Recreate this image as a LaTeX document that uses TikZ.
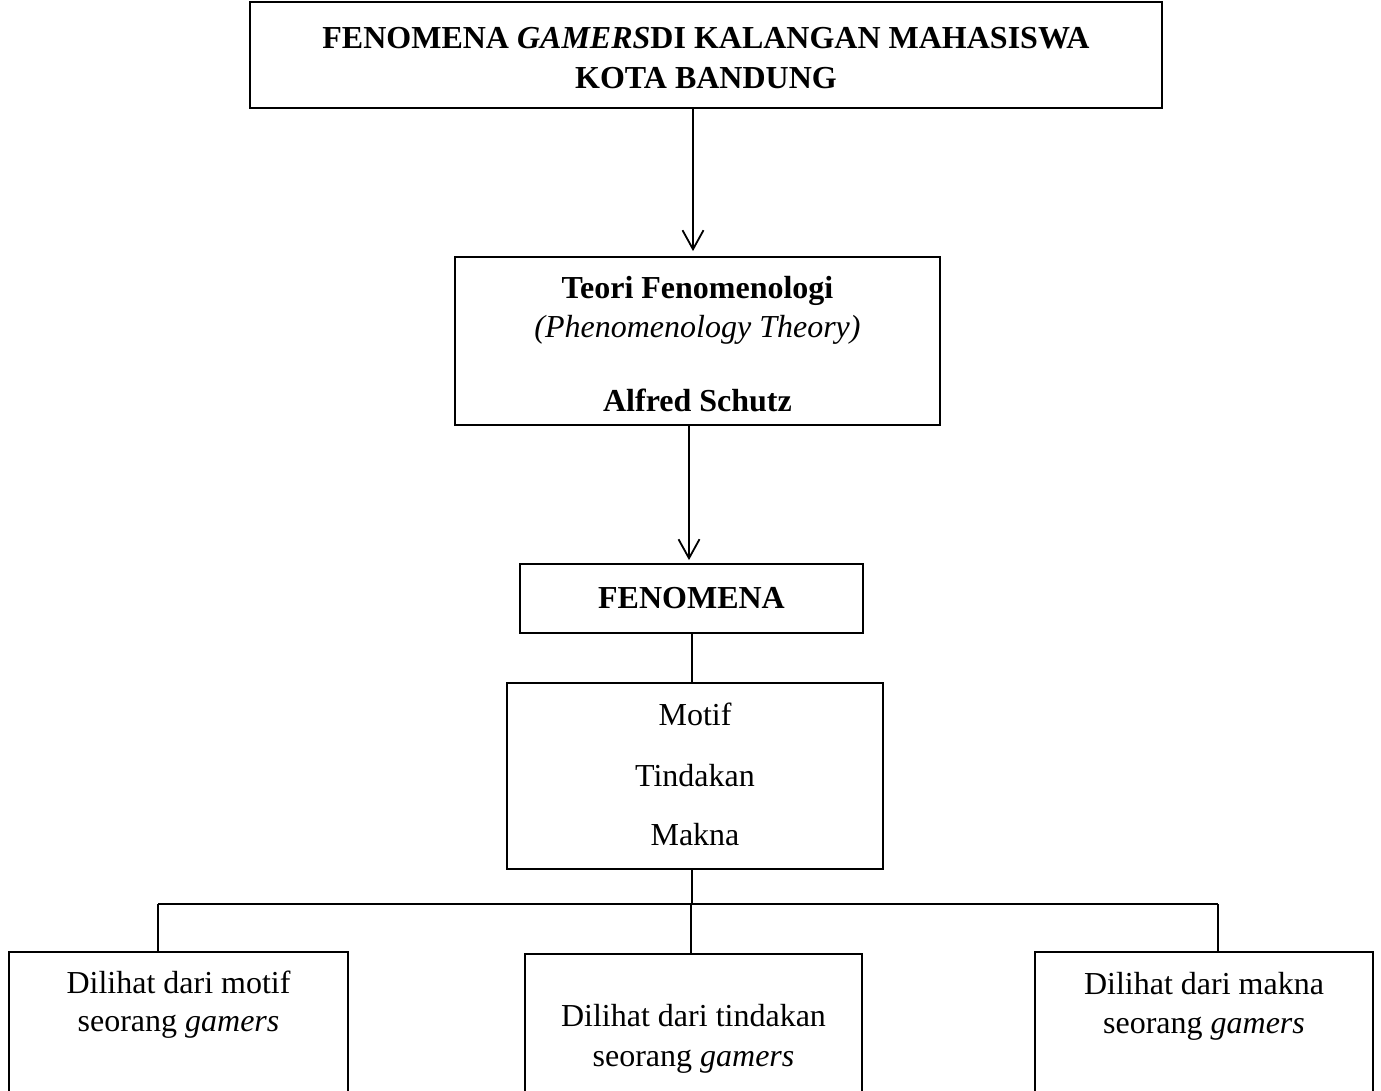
\documentclass[tikz,border=0pt]{standalone}
\usepackage{fontspec}
\setmainfont{Liberation Serif}
\usetikzlibrary{arrows.meta}
\tikzset{
	kotak/.style={draw, line width=1.8pt, inner sep=0pt},
	tulisan/.style={anchor=base, inner sep=0pt, font=\fontsize{32}{40}\selectfont},
	garis/.style={line width=1.8pt},
	panah/.style={line width=1.8pt, -{Straight Barb[length=19pt, width=21pt, line width=1.8pt]}}
}

\begin{document}
\begin{tikzpicture}[x=1pt, y=-1pt]
			%%%%% START %%%%%
			\useasboundingbox (0, 0) rectangle (1381, 1090);
			
			\node[kotak, minimum width=912pt, minimum height=106pt] (judul) at (706, 55) {};
			\node[tulisan] (judul1) at (706, 48) {\bfseries FENOMENA \textit{GAMERS}DI KALANGAN MAHASISWA};
			\node[tulisan] (judul2) at (706, 88) {\bfseries KOTA BANDUNG};
			
			\node[kotak, minimum width=485pt, minimum height=168pt] (teori) at (697.5, 341) {};
			\node[tulisan] (teori1) at (697.5, 298) {\bfseries Teori Fenomenologi};
			\node[tulisan] (teori2) at (697.5, 337) {\itshape (Phenomenology Theory)};
			\node[tulisan] (teori3) at (697.5, 411) {\bfseries Alfred Schutz};
			
			\node[kotak, minimum width=343pt, minimum height=69pt] (fenomena) at (691.5, 598.5) {};
			\node[tulisan] (fenomena1) at (691.5, 608) {\bfseries FENOMENA};
			
			\node[kotak, minimum width=376pt, minimum height=186pt] (aspek) at (695, 776) {};
			\node[tulisan] (motif) at (695, 725) {Motif};
			\node[tulisan] (tindakan) at (695, 786) {Tindakan};
			\node[tulisan] (makna) at (695, 845) {Makna};
			
			\node[kotak, minimum width=339pt, minimum height=198pt] (kiri) at (178.5, 1051) {};
			\node[tulisan] (kiri1) at (178.5, 993) {Dilihat dari motif};
			\node[tulisan] (kiri2) at (178.5, 1031) {seorang \textit{gamers}};
			
			\node[kotak, minimum width=337pt, minimum height=196pt] (tengah) at (693.5, 1052) {};
			\node[tulisan] (tengah1) at (693.5, 1026) {Dilihat dari tindakan};
			\node[tulisan] (tengah2) at (693.5, 1066) {seorang \textit{gamers}};
			
			\node[kotak, minimum width=338pt, minimum height=198pt] (kanan) at (1204, 1051) {};
			\node[tulisan] (kanan1) at (1204, 994) {Dilihat dari makna};
			\node[tulisan] (kanan2) at (1204, 1033) {seorang \textit{gamers}};
			
			% garis penghubung
			\coordinate (xa) at (693, 0);
			\coordinate (xb) at (689, 0);
			\coordinate (xc) at (692, 0);
			\coordinate (cabang) at (692, 904);
			\coordinate (cabangkiri) at (158, 904);
			\coordinate (cabangtengah) at (691, 904);
			\coordinate (cabangkanan) at (1218, 904);
			
			\draw[panah, shorten >=5pt] (judul.south -| xa) -- (teori.north -| xa);
			\draw[panah, shorten >=3pt] (teori.south -| xb) -- (fenomena.north -| xb);
			\draw[garis] (fenomena.south -| xc) -- (aspek.north -| xc);
			\draw[garis] (aspek.south -| xc) -- (cabang);
			\draw[garis] (cabangkiri) -- (cabangkanan);
			\draw[garis] (cabangkiri) -- (kiri.north -| cabangkiri);
			\draw[garis] (cabangtengah) -- (tengah.north -| cabangtengah);
			\draw[garis] (cabangkanan) -- (kanan.north -| cabangkanan);
			
			%%%%% END %%%%%
\end{tikzpicture}
\end{document}
